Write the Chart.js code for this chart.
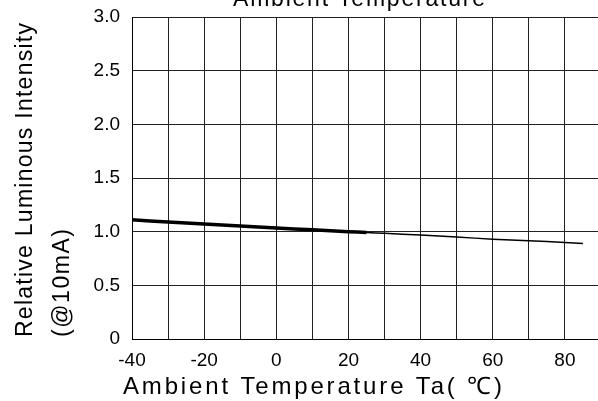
<!DOCTYPE html>
<html>
<head>
<meta charset="utf-8">
<script src="https://cdn.jsdelivr.net/npm/chart.js@4"></script>
<style>
  html, body { margin: 0; padding: 0; background: #fff; overflow: hidden; }
  #wrap { width: 606px; height: 401px; }
</style>
</head>
<body>
<div id="wrap"><canvas id="chart" width="606" height="401"></canvas></div>
<script>
// data
const temps = [-40, -30, -20, -10, 0, 10, 20, 25, 30, 40, 50, 60, 70, 80, 85];
const intensity = [1.11, 1.09, 1.072, 1.053, 1.034, 1.017, 1.0, 0.992, 0.985, 0.968, 0.95, 0.93, 0.915, 0.9, 0.89];
// the heavier stroke only covers the low-temperature part
const tempsBold = [-40, -30, -20, -10, 0, 10, 20, 25];
const intensityBold = [1.11, 1.09, 1.072, 1.053, 1.034, 1.017, 1.0, 0.992];
const xLabels = [-40, -20, 0, 20, 40, 60, 80];
const yLabels = [0, 0.5, 1.0, 1.5, 2.0, 2.5, 3.0];

const chartTitle = "Ambient Temperature";
const xTitle = "Ambient Temperature Ta( \u2103)";
const yTitle = ["Relative Luminous Intensity", "(@10mA)"];

const FONT = "'Liberation Sans', Arial, sans-serif";

// draw text with letter spacing stretched to a given width
function spacedText(ctx, text, x, y, width) {
  ctx.letterSpacing = "0px";
  const w = ctx.measureText(text).width;
  const gap = (width - w) / (text.length - 1);
  ctx.letterSpacing = gap + "px";
  ctx.fillText(text, x, y);
  ctx.letterSpacing = "0px";
}

const titlesPlugin = {
  id: "titles",
  afterDraw(chart) {
    const ctx = chart.ctx;
    ctx.save();
    ctx.fillStyle = "#000";
    ctx.textBaseline = "alphabetic";
    ctx.textAlign = "left";

    // chart title, cut off by the top edge
    ctx.font = "23px " + FONT;
    spacedText(ctx, chartTitle, 233, 6, 252);

    // x axis title
    ctx.font = "24px " + FONT;
    spacedText(ctx, xTitle, 123, 394, 379);

    // y axis title, two lines starting at the same point
    ctx.font = "23px " + FONT;
    ctx.translate(0, 337);
    ctx.rotate(-Math.PI / 2);
    spacedText(ctx, yTitle[0], 0, 32, 314);
    spacedText(ctx, yTitle[1], 0, 69, 108);
    ctx.restore();
  }
};

const ctx = document.getElementById("chart").getContext("2d");
new Chart(ctx, {
  type: "line",
  data: {
    datasets: [
      {
        label: "bold",
        data: tempsBold.map((t, i) => ({ x: t, y: intensityBold[i] })),
        borderColor: "#000",
        borderWidth: 3.5,
        pointRadius: 0,
        tension: 0.3,
        fill: false,
      },
      {
        label: "thin",
        data: temps.map((t, i) => ({ x: t, y: intensity[i] })),
        borderColor: "#000",
        borderWidth: 1.5,
        pointRadius: 0,
        tension: 0.3,
        fill: false,
      },
    ],
  },
  options: {
    responsive: false,
    animation: false,
    layout: {
      padding: { top: 17, right: 5, left: 0, bottom: 0 },
    },
    plugins: {
      legend: { display: false },
      tooltip: { enabled: false },
    },
    scales: {
      x: {
        type: "linear",
        min: -40,
        max: 90,
        afterFit: (scale) => {
          scale.height = 62;
          scale.paddingLeft = 0;
          scale.paddingRight = 0;
        },
        afterBuildTicks: (scale) => {
          scale.ticks = [];
          for (let v = -40; v <= 90; v += 10) scale.ticks.push({ value: v });
        },
        ticks: {
          autoSkip: false,
          maxRotation: 0,
          padding: 10,
          color: "#000",
          font: { family: FONT, size: 19 },
          callback: (v) => (xLabels.includes(v) ? String(v) : ""),
        },
        grid: { color: "#222", lineWidth: 1, drawTicks: false },
        border: { color: "#000", width: 1 },
      },
      y: {
        min: 0,
        max: 3,
        afterFit: (scale) => {
          scale.width = 132;
          scale.paddingTop = 0;
          scale.paddingBottom = 0;
        },
        afterBuildTicks: (scale) => {
          scale.ticks = yLabels.map((v) => ({ value: v }));
        },
        ticks: {
          padding: 12,
          color: "#000",
          font: { family: FONT, size: 19 },
          callback: (v) => (v === 0 ? "0" : v.toFixed(1)),
        },
        grid: { color: "#222", lineWidth: 1, drawTicks: false },
        border: { color: "#000", width: 1 },
      },
    },
  },
  plugins: [titlesPlugin],
});
</script>
</body>
</html>
